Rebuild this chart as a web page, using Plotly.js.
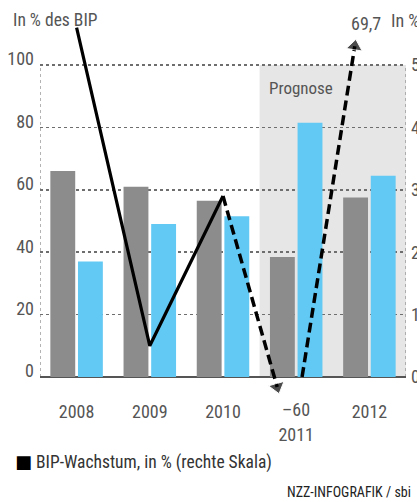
<!DOCTYPE html>
<html>
<head>
<meta charset="utf-8">
<script src="https://cdn.plot.ly/plotly-3.0.1.min.js"></script>
<style>html,body{margin:0;padding:0;background:#fff;}#chart{width:417px;height:502px;}</style>
</head>
<body>
<div id="chart"></div>
<script>
// ---- data ----
const years = [2008, 2009, 2010, 2011, 2012];
const yearLabels = ['2008', '2009', '2010', ' <br>2011', '2012'];
const greyBars = [66, 61, 56.5, 38.5, 57.5];      // in % des BIP (left scale)
const blueBars = [37, 49, 51.5, 81.5, 64.5];      // in % des BIP (left scale)
const growthYears = [2008, 2009, 2010];
const growthValues = [5.6, 0.5, 2.9];             // BIP-Wachstum, in % (right scale)
const forecastYears = [2011, 2012];
const forecastValues = [-60, 69.7];               // off-scale forecast values
// stylised off-scale arrow paths (data units, right scale)
const arrowDownX = [2010, 2010.74];
const arrowDownY = [2.9, -0.16];
const arrowUpX = [2011.08, 2011.8];
const arrowUpY = [0, 5.3];
const leftTicks = [0, 20, 40, 60, 80, 100];
const rightTicks = [0, 1, 2, 3, 4, 5];

const FONT = '"Roboto Condensed", "DejaVu Sans Condensed", sans-serif';
const TXT = '#555555';
const fmt = v => (v < 0 ? '\u2013' + Math.abs(v) : String(v).replace('.', ','));

const traces = [
  {type: 'bar', x: years, y: greyBars, marker: {color: '#8c8c8c'}, showlegend: false, hoverinfo: 'skip'},
  {type: 'bar', x: years, y: blueBars, marker: {color: '#62c9f4'}, showlegend: false, hoverinfo: 'skip'},
  {type: 'scatter', mode: 'lines', x: growthYears, y: growthValues, yaxis: 'y2',
   line: {color: '#000', width: 3.2}, showlegend: false, hoverinfo: 'skip'},
  {type: 'scatter', mode: 'lines+markers', x: arrowDownX, y: arrowDownY, yaxis: 'y2', cliponaxis: false,
   line: {color: '#000', width: 3.5, dash: '10px,5px'},
   marker: {symbol: 'triangle-up', angleref: 'previous', size: [0, 14], color: '#000'},
   showlegend: false, hoverinfo: 'skip'},
  {type: 'scatter', mode: 'lines+markers', x: arrowUpX, y: arrowUpY, yaxis: 'y2', cliponaxis: false,
   line: {color: '#000', width: 3.5, dash: '10px,5px'},
   marker: {symbol: 'triangle-up', angleref: 'previous', size: [0, 14], color: '#000'},
   showlegend: false, hoverinfo: 'skip'}
];

const L = {top: 20, bottom: 396, zero: 377, hundred: 65};
const pxPerUnit = (L.zero - L.hundred) / 100;
const yMin = -(L.bottom - L.zero) / pxPerUnit;
const yMax = (L.zero - L.top) / pxPerUnit;

const layout = {
  width: 417, height: 502,
  margin: {l: 40, r: 11, t: L.top, b: 502 - L.bottom},
  paper_bgcolor: '#fff', plot_bgcolor: 'rgba(0,0,0,0)',
  font: {family: FONT, color: TXT, size: 17},
  barmode: 'group', bargap: 0.245, bargroupgap: 0.1,
  showlegend: false,
  xaxis: {
    range: [2007.5, 2012.5], tickvals: years, ticktext: yearLabels,
    showgrid: false, zeroline: false, showline: false, ticks: '', ticklabelstandoff: 3,
    tickfont: {size: 18, color: TXT}, fixedrange: true
  },
  yaxis: {
    range: [yMin, yMax], tickvals: leftTicks, ticktext: leftTicks.map(String),
    showgrid: true, gridcolor: '#6e6e6e', gridwidth: 1.5, griddash: 'dot',
    zeroline: true, zerolinecolor: '#555', zerolinewidth: 2,
    showline: false, ticks: '', ticklabelstandoff: 5, ticklabelshift: -6,
    tickfont: {size: 18, color: TXT}, fixedrange: true
  },
  yaxis2: {
    overlaying: 'y', side: 'right',
    range: [yMin / 20, yMax / 20], tickvals: rightTicks, ticktext: rightTicks.map(String),
    showgrid: false, zeroline: false, showline: false, ticks: '', ticklabelstandoff: 4,
    tickfont: {size: 18, color: TXT}, fixedrange: true
  },
  shapes: [
    {type: 'rect', xref: 'x', yref: 'y', x0: 2010.5, x1: 2012.5, y0: 0, y1: 100,
     fillcolor: '#e6e6e6', line: {width: 0}, layer: 'below'},
    {type: 'line', xref: 'x', yref: 'y', x0: 2007.5, x1: 2007.5, y0: 0, y1: 100,
     line: {color: '#9a9a9a', width: 1.5, dash: 'dot'}, layer: 'below'},
    {type: 'line', xref: 'x', yref: 'y', x0: 2012.5, x1: 2012.5, y0: 0, y1: 100,
     line: {color: '#9a9a9a', width: 1.5, dash: 'dot'}, layer: 'below'}
  ],
  annotations: [
    {text: 'In % des BIP', xref: 'paper', yref: 'paper', x: (11 - 40) / 366, y: 1.0,
     xanchor: 'left', yanchor: 'middle', showarrow: false, font: {size: 17.5, color: TXT}},
    {text: 'In %', xref: 'paper', yref: 'paper', x: (389 - 40) / 366, y: 1.0,
     xanchor: 'left', yanchor: 'middle', showarrow: false, font: {size: 18, color: TXT}},
    {text: 'Prognose', xref: 'x', yref: 'y', x: 2010.6, y: 92.6,
     xanchor: 'left', yanchor: 'middle', showarrow: false, font: {size: 17, color: TXT}},
    {text: fmt(forecastValues[0]), xref: 'x', yref: 'paper', x: forecastYears[0], y: (L.bottom - 410) / 376,
     xanchor: 'center', yanchor: 'middle', showarrow: false, font: {size: 18, color: TXT}},
    {text: fmt(forecastValues[1]), xref: 'x', yref: 'paper', x: arrowUpX[1], xshift: 11, y: (L.bottom - 24) / 376,
     xanchor: 'center', yanchor: 'middle', showarrow: false, font: {size: 18, color: TXT}},
    {text: '<span style="font-family:DejaVu Sans;font-size:18px;color:#000">\u25A0</span> BIP-Wachstum, in % (rechte Skala)',
     xref: 'paper', yref: 'paper',
     x: (13 - 40) / 366, y: (L.bottom - 462) / 376, xanchor: 'left', yanchor: 'middle',
     showarrow: false, font: {size: 17.5, color: '#333'}},
    {text: 'NZZ-INFOGRAFIK / sbi', xref: 'paper', yref: 'paper',
     x: (413 - 40) / 366, y: (L.bottom - 492) / 376, xanchor: 'right', yanchor: 'middle',
     showarrow: false, font: {size: 14, color: '#222'}}
  ]
};

Plotly.newPlot('chart', traces, layout, {displayModeBar: false, staticPlot: true});
</script>
</body>
</html>
